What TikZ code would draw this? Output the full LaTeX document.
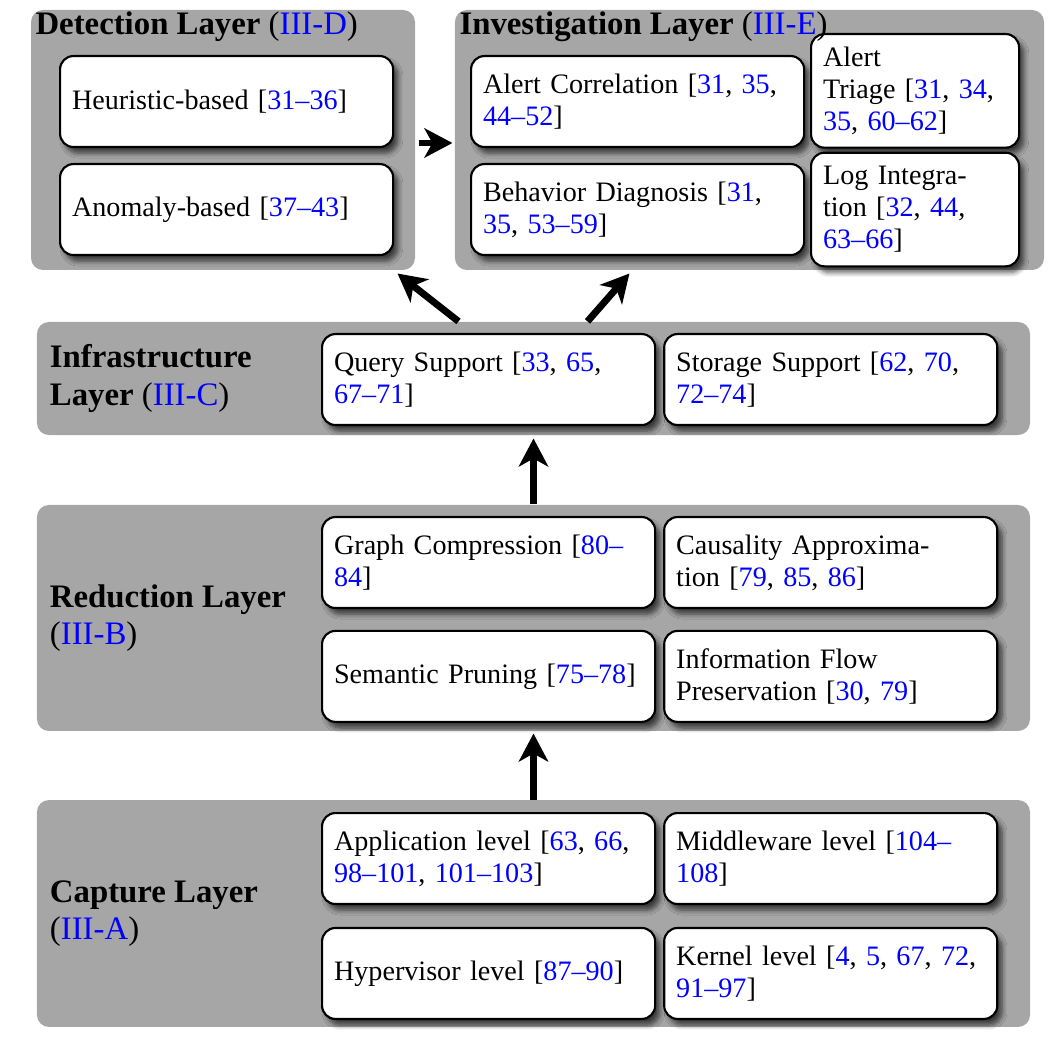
\documentclass[tikz,border=0pt]{standalone}
\usepackage{fontspec}
\setmainfont{Liberation Serif}
\usetikzlibrary{arrows.meta, positioning, calc, shadows.blur}
\definecolor{layergray}{RGB}{166,166,166}
\newcommand{\rf}[1]{\textcolor{blue}{#1}}

\begin{document}
\begin{tikzpicture}[x=0.375pt, y=-0.375pt, >={Stealth[length=10.5pt, width=11pt, inset=3pt]},
  layer/.style={rectangle, fill=layergray, rounded corners=4.5pt, inner sep=0pt},
  item/.style={rectangle, draw, fill=white, thick, rounded corners=5pt, minimum width=124.9pt, minimum height=34.1pt, text width=115.9pt, inner xsep=4.5pt, align=left, font=\fontsize{10.55}{12}\selectfont, blur shadow={shadow xshift=1.8pt, shadow yshift=-2.3pt, shadow opacity=65, shadow blur steps=6}},
  small/.style={minimum width=78pt, text width=69pt, minimum height=42.6pt},
  heading/.style={inner sep=0pt, align=left, font=\fontsize{12.3}{14}\selectfont},
  flow/.style={->, line width=2.6pt}]
\useasboundingbox (0,0) rectangle (1058,1037);

% layer backgrounds
\node (det)   [layer, minimum width=144pt, minimum height=97.5pt] at (223,140) {};
\node (inv)   [layer, minimum width=220.9pt, minimum height=97.5pt] at (749.5,140) {};
\node (infra) [layer, minimum width=372.4pt, minimum height=42.4pt] at (533.5,378.5) {};
\node (red)   [layer, minimum width=372.4pt, minimum height=84.75pt] at (533.5,618) {};
\node (cap)   [layer, minimum width=372.4pt, minimum height=85.1pt] at (533.5,913.5) {};

% detection
\node (heur) [item, anchor=north west] at (59,55) {Heuristic-based [\rf{31--36}]};
\node (anom) [item, below=5.6pt of heur] {Anomaly-based [\rf{37--43}]};

% investigation
\node (corr)   [item, anchor=north west] at (470,55) {Alert Correlation [\rf{31}, \rf{35},\\\rf{44--52}]};
\node (diag)   [item, below=5.6pt of corr] {Behavior Diagnosis [\rf{31},\\\rf{35}, \rf{53--59}]};
\node (triage) [item, small, anchor=north west] at (810,33) {Alert\\Triage [\rf{31}, \rf{34},\\\rf{35}, \rf{60--62}]};
\node (logint) [item, small, below=1.1pt of triage] {Log Integra-\\tion [\rf{32}, \rf{44},\\\rf{63--66}]};

% infrastructure
\node (query) [item, anchor=north west] at (321,333) {Query Support [\rf{33}, \rf{65},\\\rf{67--71}]};
\node (store) [item, right=2.6pt of query] {Storage Support [\rf{62}, \rf{70},\\\rf{72--74}]};

% reduction
\node (comp)   [item, anchor=north west] at (321,516) {Graph Compression [\rf{80--}\\\rf{84}]};
\node (approx) [item, right=2.6pt of comp] {Causality Approxima-\\tion [\rf{79}, \rf{85}, \rf{86}]};
\node (prune)  [item, below=7.8pt of comp] {Semantic Pruning [\rf{75--78}]};
\node (flowp)  [item, right=2.6pt of prune] {Information Flow\\Preservation [\rf{30}, \rf{79}]};

% capture
\node (app)  [item, anchor=north west] at (321,812) {Application level [\rf{63}, \rf{66},\\\rf{98--101}, \rf{101--103}]};
\node (mid)  [item, right=2.6pt of app] {Middleware level [\rf{104--}\\\rf{108}]};
\node (hyp)  [item, below=8.2pt of app] {Hypervisor level [\rf{87--90}]};
\node (kern) [item, right=2.6pt of hyp] {Kernel level [\rf{4}, \rf{5}, \rf{67}, \rf{72},\\\rf{91--97}]};

% headings
\node (dettitle)   [heading, anchor=base west] at (35,35) {\textbf{Detection Layer} (\rf{III-D})};
\node (invtitle)   [heading, anchor=base west] at (459,35) {\textbf{Investigation Layer} (\rf{III-E})};
\node (infratitle) [heading, anchor=west] at ($(infra.west)+(13,0)$) {\textbf{Infrastructure}\\\textbf{Layer} (\rf{III-C})};
\node (redtitle)   [heading, anchor=west] at ($(red.west)+(13,0)$) {\textbf{Reduction Layer}\\(\rf{III-B})};
\node (captitle)   [heading, anchor=west] at ($(cap.west)+(13,0)$) {\textbf{Capture Layer}\\(\rf{III-A})};

% flows
\draw[flow, shorten >=1.1pt] (red.north) -- (infra.south);
\draw[flow, shorten >=0.75pt] (cap.north) -- (red.south);
\draw[flow] ($(infra.north)+(-75,0)$) -- ($(det.south east)+(-18,3)$);
\draw[flow] ($(infra.north)+(54,0)$) -- ($(inv.south west)+(175,3)$);
\draw[flow] ($(det.east)+(3,3)$) -- ($(inv.west)+(-2,3)$);
\end{tikzpicture}
\end{document}
